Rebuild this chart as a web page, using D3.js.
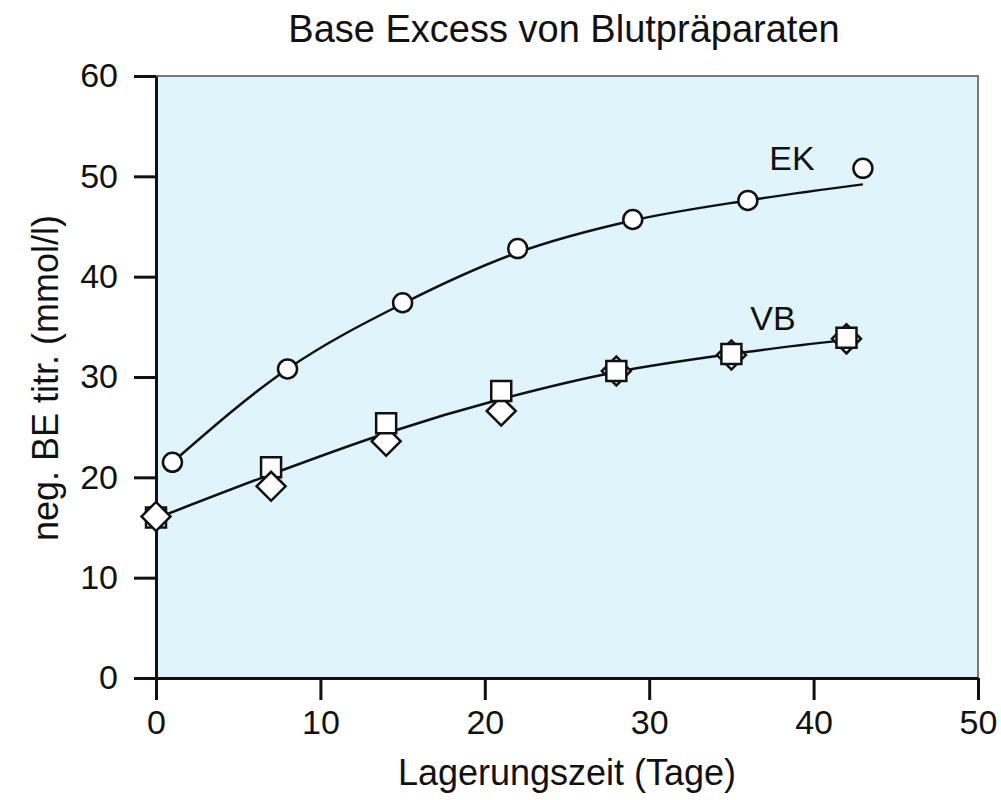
<!DOCTYPE html>
<html lang="de">
<head>
<meta charset="UTF-8">
<title>Base Excess von Blutpräparaten</title>
<script src="https://d3js.org/d3.v7.min.js"></script>
<style>
  body { margin: 0; background: #fff; }
  svg text { font-family: "Liberation Sans", Arial, sans-serif; fill: #111; }
</style>
</head>
<body>
<div id="chart"></div>
<script>
const ekTage = [1, 8, 15, 22, 29, 36, 43];
const ekWerte = [21.5, 30.8, 37.4, 42.8, 45.7, 47.6, 50.8];

const vbTage = [0, 7, 14, 21, 28, 35, 42];
const vbQuadrat = [16.0, 21.0, 25.4, 28.6, 30.6, 32.3, 33.9];
const vbRaute = [16.1, 19.1, 23.6, 26.6, 30.6, 32.2, 33.8];

// Ausgleichskurven
const ekKurveTage = [1, 8, 15, 22, 29, 36, 43];
const ekKurveWerte = [21.5, 30.8, 37.3, 42.4, 45.6, 47.6, 49.2];
const vbKurveTage = [0, 7, 14, 21, 28, 35, 42];
const vbKurveWerte = [15.9, 20.3, 24.4, 27.8, 30.5, 32.3, 33.7];

const xTicks = [0, 10, 20, 30, 40, 50];
const yTicks = [0, 10, 20, 30, 40, 50, 60];

const width = 1001, height = 800;
const svg = d3.select("#chart").append("svg")
  .attr("width", width).attr("height", height);

const x = d3.scaleLinear().domain([0, 50]).range([156, 978]);
const y = d3.scaleLinear().domain([0, 60]).range([678, 76]);

// Hintergrund des Diagramms
svg.append("rect")
  .attr("x", x(0)).attr("y", y(60))
  .attr("width", x(50) - x(0)).attr("height", y(0) - y(60))
  .attr("fill", "#e0f4fc")
  .attr("stroke", "none");

// obere und rechte Kante
svg.append("path")
  .attr("d", `M${x(0)},${y(60)}H${x(50)}V${y(0)}`)
  .attr("fill", "none").attr("stroke", "#777").attr("stroke-width", 2);

// Achsen
const xAxis = svg.append("g")
  .attr("transform", `translate(0,${y(0)})`)
  .call(d3.axisBottom(x).tickValues(xTicks).tickSize(22).tickSizeOuter(0).tickPadding(7));
const yAxis = svg.append("g")
  .attr("transform", `translate(${x(0)},0)`)
  .call(d3.axisLeft(y).tickValues(yTicks).tickSize(22).tickSizeOuter(0).tickPadding(16));

[xAxis, yAxis].forEach(g => {
  g.select(".domain").attr("stroke", "#111").attr("stroke-width", 3);
  g.selectAll(".tick line").attr("stroke", "#111").attr("stroke-width", 3);
  g.selectAll(".tick text").attr("font-size", 34).attr("fill", "#111")
    .style("font-family", '"Liberation Sans", Arial, sans-serif');
});
xAxis.selectAll(".tick text").attr("dy", "0.78em");

// Kurven
const line = d3.line().x(d => x(d[0])).y(d => y(d[1])).curve(d3.curveMonotoneX);
svg.append("path")
  .datum(d3.zip(ekKurveTage, ekKurveWerte))
  .attr("d", line)
  .attr("fill", "none").attr("stroke", "#111").attr("stroke-width", 2.5);
svg.append("path")
  .datum(d3.zip(vbKurveTage, vbKurveWerte))
  .attr("d", line)
  .attr("fill", "none").attr("stroke", "#111").attr("stroke-width", 2.5);

// Marker VB: Reihenfolge der Überlagerung wie im Original
const quadrate = vbTage.map((t, i) => ({ t, v: vbQuadrat[i], typ: "q" }));
const rauten = vbTage.map((t, i) => ({ t, v: vbRaute[i], typ: "r" }));
const vbMarker = [];
vbTage.forEach((t, i) => {
  if (t <= 7) { vbMarker.push(quadrate[i], rauten[i]); }
  else { vbMarker.push(rauten[i], quadrate[i]); }
});

const rautenSymbol = d3.symbol().type(d3.symbolSquare).size(420);
const quadratSymbol = d3.symbol().type(d3.symbolSquare).size(400);

svg.append("g").selectAll("path")
  .data(vbMarker)
  .join("path")
  .attr("d", d => d.typ === "q" ? quadratSymbol() : rautenSymbol())
  .attr("transform", d => `translate(${x(d.t)},${y(d.v)})` + (d.typ === "r" ? " rotate(45)" : ""))
  .attr("fill", "#fff").attr("stroke", "#111").attr("stroke-width", 2.5);

// Marker EK
svg.append("g").selectAll("circle")
  .data(d3.zip(ekTage, ekWerte))
  .join("circle")
  .attr("cx", d => x(d[0])).attr("cy", d => y(d[1]))
  .attr("r", 9.5)
  .attr("fill", "#fff").attr("stroke", "#111").attr("stroke-width", 2.5);

// Beschriftungen
svg.append("text")
  .attr("x", 792).attr("y", 170)
  .attr("text-anchor", "middle").attr("font-size", 34)
  .text("EK");
svg.append("text")
  .attr("x", 773).attr("y", 330)
  .attr("text-anchor", "middle").attr("font-size", 34)
  .text("VB");

svg.append("text")
  .attr("x", 564).attr("y", 42)
  .attr("text-anchor", "middle").attr("font-size", 38)
  .text("Base Excess von Blutpräparaten");

svg.append("text")
  .attr("x", 567).attr("y", 785)
  .attr("text-anchor", "middle").attr("font-size", 36)
  .text("Lagerungszeit (Tage)");

svg.append("text")
  .attr("transform", "translate(58,378) rotate(-90)")
  .attr("text-anchor", "middle").attr("font-size", 36)
  .text("neg. BE titr. (mmol/l)");
</script>
</body>
</html>
